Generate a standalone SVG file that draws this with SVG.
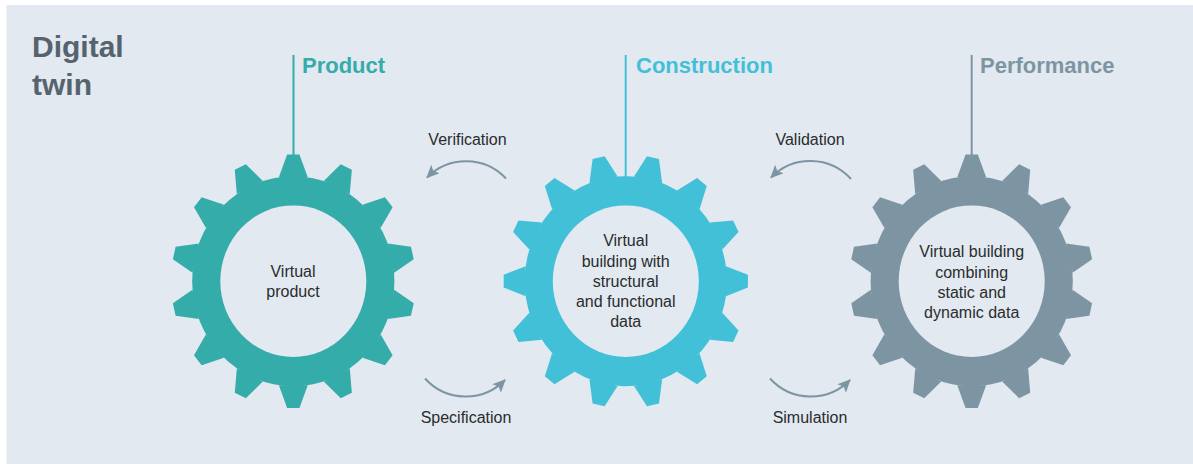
<svg xmlns="http://www.w3.org/2000/svg" xmlns:xlink="http://www.w3.org/1999/xlink" width="1193" height="464" viewBox="0 0 1193 464">
<style>
text{font-family:"Liberation Sans",Arial,sans-serif}
.t{font-size:16px;fill:#2a2c2e;text-anchor:middle}
.h{font-size:30px;font-weight:700;fill:#56636e}
.s{font-size:22px;font-weight:700}
.a{fill:none;stroke:#7d95a3;stroke-width:2;marker-end:url(#ah)}
.hole{fill:#e2e9f0}
</style>
<defs>
<marker id="ah" markerUnits="userSpaceOnUse" markerWidth="16" markerHeight="14" refX="12" refY="6" orient="auto"><path d="M0,0 L13,6 L0,12 L3,6 Z" fill="#7d95a3"/></marker>
<polygon id="tooth" points="-15,-104 -6.4,-126.8 6.4,-126.8 15,-104"/>
<g id="cog">
<circle r="105"/>
<use xlink:href="#tooth" href="#tooth"/>
<use xlink:href="#tooth" href="#tooth" transform="rotate(25.714)"/>
<use xlink:href="#tooth" href="#tooth" transform="rotate(51.429)"/>
<use xlink:href="#tooth" href="#tooth" transform="rotate(77.143)"/>
<use xlink:href="#tooth" href="#tooth" transform="rotate(102.857)"/>
<use xlink:href="#tooth" href="#tooth" transform="rotate(128.571)"/>
<use xlink:href="#tooth" href="#tooth" transform="rotate(154.286)"/>
<use xlink:href="#tooth" href="#tooth" transform="rotate(180)"/>
<use xlink:href="#tooth" href="#tooth" transform="rotate(205.714)"/>
<use xlink:href="#tooth" href="#tooth" transform="rotate(231.429)"/>
<use xlink:href="#tooth" href="#tooth" transform="rotate(257.143)"/>
<use xlink:href="#tooth" href="#tooth" transform="rotate(282.857)"/>
<use xlink:href="#tooth" href="#tooth" transform="rotate(308.571)"/>
<use xlink:href="#tooth" href="#tooth" transform="rotate(334.286)"/>
</g>
</defs>
<rect id="panel" x="6.5" y="5" width="1186.5" height="459" fill="#e2e9f0"/>
<g id="title"><text class="h" x="32" y="57">Digital</text><text class="h" x="32" y="95">twin</text></g>
<g id="connectors">
<path class="a" d="M506,178.5 A55,55 0 0 0 427,177.5"/>
<path class="a" d="M851,179 A55,55 0 0 0 771,177.5"/>
<path class="a" d="M425,378.5 A55,55 0 0 0 505,380"/>
<path class="a" d="M770,378.5 A55,55 0 0 0 850,380"/>
</g>
<g id="product">
<line x1="293.5" y1="55" x2="293.5" y2="156" stroke="#34aca9" stroke-width="2"/>
<text class="s" x="302" y="73" fill="#34aca9">Product</text>
<use xlink:href="#cog" href="#cog" fill="#34aca9" transform="translate(293.3,281.2) scale(.963,1)"/>
<ellipse class="hole" cx="293.3" cy="281.2" rx="73" ry="75.8"/>
<text class="t" x="293" y="277">Virtual</text><text class="t" x="293" y="297">product</text>
</g>
<g id="construction">
<line x1="625.7" y1="55" x2="625.7" y2="178" stroke="#41c0d8" stroke-width="2"/>
<text class="s" x="636" y="73" fill="#41c0d8">Construction</text>
<use xlink:href="#cog" href="#cog" fill="#41c0d8" transform="translate(625.8,281.2) scale(.963,1) rotate(12.857)"/>
<ellipse class="hole" cx="625.8" cy="281.2" rx="73" ry="75.8"/>
<text class="t" x="625.7" y="246">Virtual</text><text class="t" x="625.7" y="267">building with</text><text class="t" x="625.7" y="287">structural</text><text class="t" x="625.7" y="307">and functional</text><text class="t" x="625.7" y="327">data</text>
</g>
<g id="performance">
<line x1="971.7" y1="55" x2="971.7" y2="156" stroke="#7d95a3" stroke-width="2"/>
<text class="s" x="980" y="73" fill="#7d95a3">Performance</text>
<use xlink:href="#cog" href="#cog" fill="#7d95a3" transform="translate(971.7,281.2) scale(.963,1)"/>
<ellipse class="hole" cx="971.7" cy="281.2" rx="73" ry="75.8"/>
<text class="t" x="971.7" y="256.7">Virtual building</text><text class="t" x="971.7" y="277.7">combining</text><text class="t" x="971.7" y="297.7">static and</text><text class="t" x="971.7" y="317.7">dynamic data</text>
</g>
<g id="labels">
<text class="t" x="467.5" y="145">Verification</text>
<text class="t" x="810" y="145">Validation</text>
<text class="t" x="466" y="423">Specification</text>
<text class="t" x="810" y="423">Simulation</text>
</g>
</svg>
